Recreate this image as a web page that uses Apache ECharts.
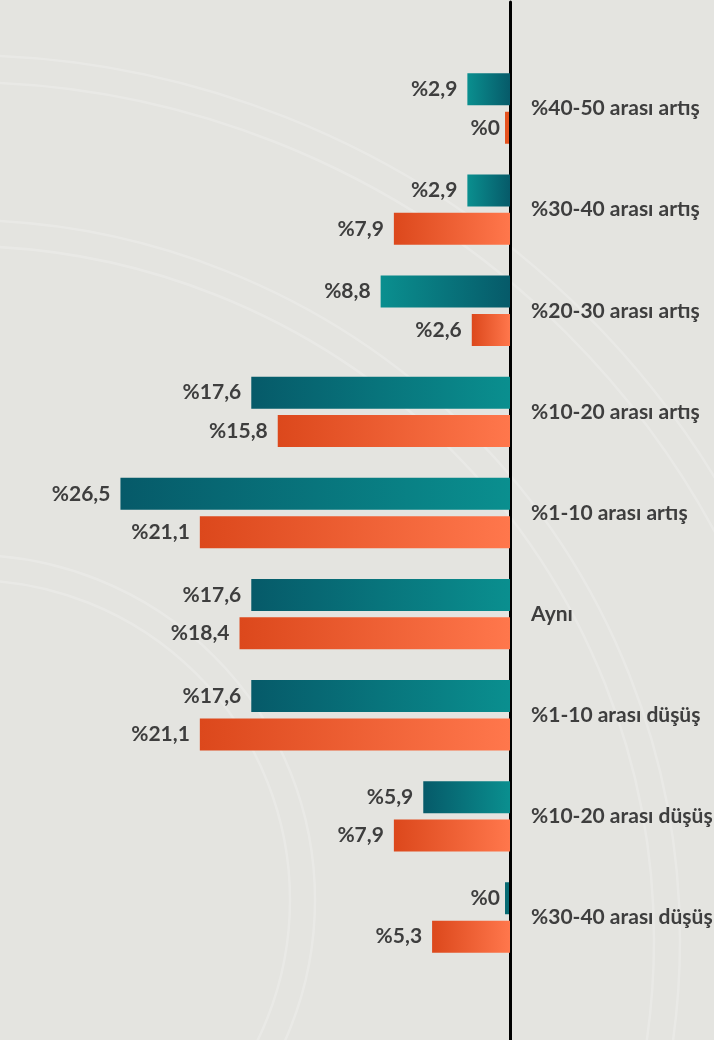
<!DOCTYPE html>
<html>
<head>
<meta charset="utf-8">
<script src="https://cdn.jsdelivr.net/npm/echarts@6/dist/echarts.min.js"></script>
<style>
  html, body { margin: 0; padding: 0; background: #e4e4e0; }
  #chart { width: 714px; height: 1040px; }
</style>
</head>
<body>
<div id="chart"></div>
<script>
const categories = [
  '%40-50 arası artış',
  '%30-40 arası artış',
  '%20-30 arası artış',
  '%10-20 arası artış',
  '%1-10 arası artış',
  'Aynı',
  '%1-10 arası düşüş',
  '%10-20 arası düşüş',
  '%30-40 arası düşüş'
];
const tealValues = [2.9, 2.9, 8.8, 17.6, 26.5, 17.6, 17.6, 5.9, 0];
const orangeValues = [0, 7.9, 2.6, 15.8, 21.1, 18.4, 21.1, 7.9, 5.3];

const fmt = v => '%' + String(v).replace('.', ',');
function grad(a, b) {
  return new echarts.graphic.LinearGradient(0, 0, 1, 0, [
    { offset: 0, color: a }, { offset: 1, color: b }
  ]);
}
const tealDark = '#065a69', tealLight = '#0a8f8f';
const orangeDark = '#dc481c', orangeLight = '#ff774c';

const BAR_W = 32, GAP = 0.2;
const font = 'Lato, "Open Sans", sans-serif';
const labelStyle = {
  show: true, position: 'left', distance: 10,
  color: '#3e3e3e', fontFamily: font, fontWeight: 'bold', fontSize: 21,
  formatter: p => fmt(p.value)
};

// thin stub for zero-valued bars (drawn through the axis scales)
function zeroStub(values, sign, color) {
  return {
    type: 'custom', xAxisIndex: 0, yAxisIndex: 0, z: 3, silent: true,
    data: values.map((v, i) => [v, i]).filter(d => d[0] === 0),
    encode: { x: 0, y: 1 },
    renderItem: (params, api) => {
      const p = api.coord([api.value(0), api.value(1)]);
      const off = sign * (BAR_W * (1 + GAP)) / 2;
      return {
        type: 'rect',
        shape: { x: p[0] - 5, y: p[1] + off - BAR_W / 2, width: 4, height: BAR_W },
        style: { fill: color }
      };
    }
  };
}

const chart = echarts.init(document.getElementById('chart'), null, { renderer: 'canvas' });

const arcs = [
  { cx: -40, cy: 940, r: 885 }, { cx: -40, cy: 940, r: 858 },
  { cx: -40, cy: 940, r: 720 }, { cx: -40, cy: 940, r: 694 },
  { cx: -30, cy: 900, r: 345 }, { cx: -30, cy: 900, r: 320 }
].map(c => ({
  type: 'circle', silent: true, z: -10,
  shape: { cx: c.cx, cy: c.cy, r: c.r },
  style: { fill: 'none', stroke: 'rgba(255,255,255,0.2)', lineWidth: 2.5 }
}));

chart.setOption({
  backgroundColor: '#e4e4e0',
  animation: false,
  graphic: arcs,
  grid: [
    { left: 69, right: 204, top: 58, bottom: 72, outerBoundsMode: 'none', containLabel: false },
    { left: 69, right: 204, top: 2, bottom: 0, outerBoundsMode: 'none', containLabel: false }
  ],
  xAxis: [
    { gridIndex: 0, type: 'value', min: 0, max: 30, inverse: true, show: false },
    { gridIndex: 1, type: 'value', min: 0, max: 30, inverse: true, show: false }
  ],
  yAxis: [
    {
      gridIndex: 0, type: 'category', data: categories, inverse: true, position: 'right',
      axisLine: { show: false }, axisTick: { show: false },
      axisLabel: { margin: 21, color: '#3e3e3e', fontFamily: font, fontWeight: 'bold', fontSize: 21 }
    },
    {
      gridIndex: 1, type: 'category', data: [''], position: 'right',
      axisLine: { show: true, lineStyle: { color: '#000', width: 3 } },
      axisTick: { show: false }, axisLabel: { show: false }
    }
  ],
  series: [
    {
      name: 'teal', type: 'bar', xAxisIndex: 0, yAxisIndex: 0,
      data: tealValues, barWidth: BAR_W, barGap: (GAP * 100) + '%',
      itemStyle: {
        color: p => p.dataIndex < 3 ? grad(tealLight, tealDark) : grad(tealDark, tealLight)
      },
      label: labelStyle
    },
    {
      name: 'orange', type: 'bar', xAxisIndex: 0, yAxisIndex: 0,
      data: orangeValues, barWidth: BAR_W, barGap: (GAP * 100) + '%',
      itemStyle: { color: grad(orangeDark, orangeLight) },
      label: labelStyle
    },
    zeroStub(tealValues, -1, '#086a72'),
    zeroStub(orangeValues, 1, '#e5521f')
  ]
});
</script>
</body>
</html>
